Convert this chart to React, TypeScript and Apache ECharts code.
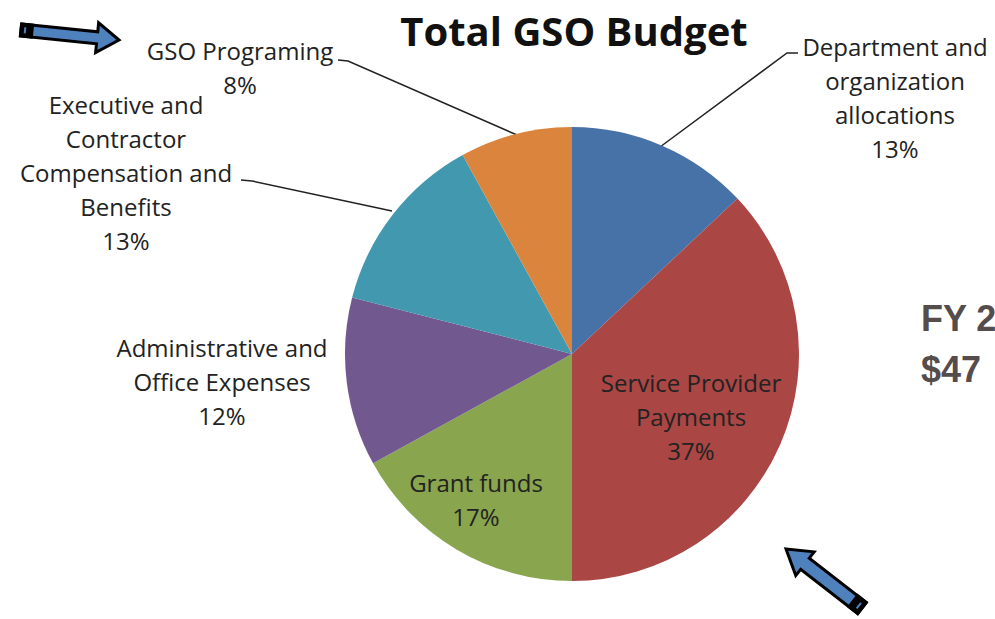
import React, { useEffect, useRef } from "react";
import * as echarts from "echarts";

const categories = [
  "Department and\norganization\nallocations",
  "Service Provider\nPayments",
  "Grant funds",
  "Administrative and\nOffice Expenses",
  "Executive and\nContractor\nCompensation and\nBenefits",
  "GSO Programing",
];
const shares = [13, 37, 17, 12, 13, 8];
const sliceColors = ["#4672A8", "#AA4644", "#89A54E", "#71588F", "#4198AF", "#DB843D"];
const titleText = "Total GSO Budget";
const sideLines = ["FY 2", "$47"];

// label placement (layout only)
const labelPos = [
  { x: 895, y: 97, line: [[660, 147], [787, 53], [798, 53]] },
  { x: 691, y: 416, line: null },
  { x: 476, y: 499, line: null },
  { x: 222, y: 381, line: null },
  { x: 126, y: 172, line: [[392, 211], [252, 181], [241, 180]] },
  { x: 240, y: 67, line: [[517, 135], [348, 61], [338, 60]] },
];

function arrow(tail: number[], tip: number[], shaft: number, head: number, headLen: number) {
  const dx = tip[0] - tail[0];
  const dy = tip[1] - tail[1];
  const L = Math.sqrt(dx * dx + dy * dy);
  const ux = dx / L, uy = dy / L;
  const px = -uy, py = ux;
  const P = (a: number, b: number) => [tail[0] + ux * a + px * b, tail[1] + uy * a + py * b];
  const body = [
    P(0, -shaft), P(L - headLen, -shaft), P(L - headLen, -head), P(L, 0),
    P(L - headLen, head), P(L - headLen, shaft), P(0, shaft),
  ];
  const cap = [P(0, -shaft), P(11, -shaft), P(11, shaft), P(0, shaft)];
  const mark = [P(4, -shaft * 0.5), P(4, shaft * 0.5)];
  return [
    { type: "polygon", shape: { points: body }, style: { fill: "#4F81BD", stroke: "#000", lineWidth: 3, lineJoin: "miter" } },
    { type: "polygon", shape: { points: cap }, style: { fill: "#000", stroke: "#000", lineWidth: 3 } },
    { type: "polyline", shape: { points: mark }, style: { stroke: "#4F81BD", lineWidth: 2 } },
  ];
}

export default function App() {
  const ref = useRef<HTMLDivElement>(null);
  useEffect(() => {
    if (!ref.current) return;
    const chart = echarts.init(ref.current, null, { renderer: "svg" });
    const data = categories.map((name, i) => ({
      name,
      value: shares[i],
      itemStyle: { color: sliceColors[i] },
      label: { position: i === 1 || i === 2 ? "inside" : "outside" },
      labelLine: { show: !!labelPos[i].line },
    }));
    chart.setOption({
      animation: false,
      title: {
        text: titleText,
        left: 569,
        top: 5,
        textAlign: "center",
        textStyle: { fontFamily: "Open Sans", fontWeight: "bold", fontSize: 40, color: "#111" },
      },
      graphic: [
        ...arrow([21, 30], [119, 40], 6, 15, 22),
        ...arrow([862, 608], [786, 549], 7, 15, 24),
        {
          type: "text",
          left: 921,
          top: 300,
          style: { text: sideLines[0], fontFamily: "Liberation Sans", fontWeight: "bold", fontSize: 36, fill: "#554C4C" },
        },
        {
          type: "text",
          left: 921,
          top: 351,
          style: { text: sideLines[1], fontFamily: "Liberation Sans", fontWeight: "bold", fontSize: 36, fill: "#554C4C" },
        },
      ],
      series: [
        {
          type: "pie",
          center: [572, 354],
          radius: 227,
          startAngle: 90,
          clockwise: true,
          avoidLabelOverlap: false,
          data,
          label: {
            fontFamily: "Open Sans",
            fontSize: 24,
            lineHeight: 34,
            color: "#222",
            align: "center",
            formatter: (p: any) => `${p.name}\n${Math.round(p.percent)}%`,
          },
          labelLine: { lineStyle: { color: "#222", width: 1.5 } },
          labelLayout: (p: any) => {
            const lp = labelPos[p.dataIndex];
            const out: any = { x: lp.x, y: lp.y, align: "center", verticalAlign: "middle" };
            if (lp.line) out.labelLinePoints = lp.line;
            return out;
          },
          emphasis: { disabled: true },
        },
      ],
    });
    return () => chart.dispose();
  }, []);
  return (
    <div
      ref={ref}
      style={{ position: "fixed", left: 0, top: 0, width: 995, height: 619, background: "#fff" }}
    />
  );
}
